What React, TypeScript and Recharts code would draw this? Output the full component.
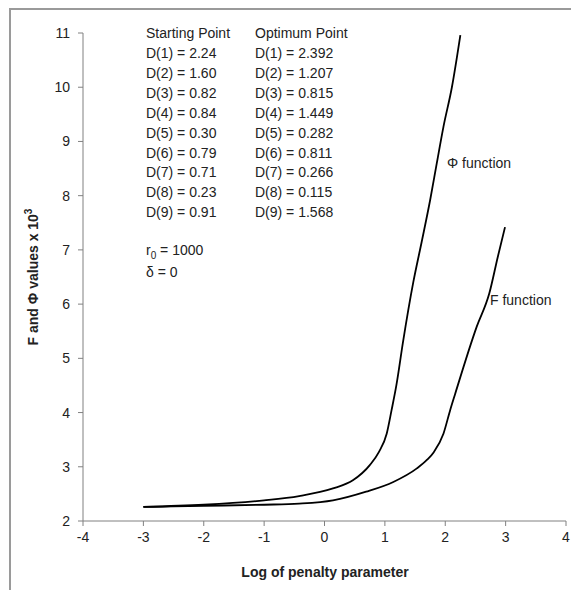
import React from 'react';
import { LineChart, Line, XAxis, YAxis } from 'recharts';

// log of penalty parameter vs F and Phi values (x 10^3)
const phiX = [-3, -2, -1, -0.42, 0.14, 0.47, 0.75, 0.9, 1.03, 1.11, 1.19, 1.3, 1.47, 1.61, 1.75, 1.86, 1.97, 2.11, 2.25];
const phiY = [2.26, 2.3, 2.38, 2.46, 2.6, 2.75, 3.03, 3.27, 3.61, 4.04, 4.5, 5.3, 6.4, 7.15, 7.92, 8.6, 9.27, 10.0, 10.96];

const fX = [-3, -2, -1, -0.42, 0.14, 0.69, 1.14, 1.53, 1.7, 1.81, 1.97, 2.08, 2.16, 2.52, 2.73, 2.87, 2.99];
const fY = [2.26, 2.28, 2.3, 2.32, 2.38, 2.54, 2.72, 2.97, 3.13, 3.27, 3.61, 4.04, 4.33, 5.58, 6.2, 6.87, 7.42];

const xTicks = [-4, -3, -2, -1, 0, 1, 2, 3, 4];
const yTicks = [2, 3, 4, 5, 6, 7, 8, 9, 10, 11];

const startD = [2.24, 1.6, 0.82, 0.84, 0.3, 0.79, 0.71, 0.23, 0.91];
const optD = [2.392, 1.207, 0.815, 1.449, 0.282, 0.811, 0.266, 0.115, 1.568];

const phiData = phiX.map((x, i) => ({ x, y: phiY[i] }));
const fData = fX.map((x, i) => ({ x, y: fY[i] }));

const font = '"Liberation Sans", Arial, sans-serif';
const tickStyle = { fontSize: 14, fill: '#222', fontFamily: font };

const App: React.FC = () => {
  return (
    <div style={{ position: 'absolute', left: 0, top: 0, width: 571, height: 590, background: '#fff' }}>
      <div
        style={{
          position: 'absolute',
          left: 9,
          top: 8,
          width: 600,
          height: 600,
          borderLeft: '2px solid #9a9a9a',
          borderTop: '2px solid #9a9a9a',
        }}
      />
      <LineChart
        width={571}
        height={590}
        margin={{ top: 33, right: 5, left: 0, bottom: 0 }}
        style={{ position: 'absolute', left: 0, top: 0 }}
      >
        <XAxis
          type="number"
          dataKey="x"
          domain={[-4, 4]}
          ticks={xTicks}
          allowDataOverflow
          height={69}
          stroke="#808080"
          tickSize={5}
          tickMargin={6}
          tick={tickStyle}
        />
        <YAxis
          type="number"
          dataKey="y"
          domain={[2, 11]}
          ticks={yTicks}
          width={83}
          stroke="#808080"
          tickSize={5}
          tickMargin={8}
          tick={tickStyle}
        />
        <Line data={phiData} dataKey="y" type="monotone" stroke="#000" strokeWidth={1.8} dot={false} isAnimationActive={false} />
        <Line data={fData} dataKey="y" type="monotone" stroke="#000" strokeWidth={1.8} dot={false} isAnimationActive={false} />
      </LineChart>
      <svg
        width={571}
        height={590}
        style={{ position: 'absolute', left: 0, top: 0, pointerEvents: 'none' }}
        fontFamily={font}
        fill="#222"
      >
        <text x={146} y={38} fontSize={14}>Starting Point</text>
        <text x={255} y={38} fontSize={14}>Optimum Point</text>
        {startD.map((v, i) => (
          <text key={'s' + i} x={146} y={58 + i * 19.9} fontSize={14}>
            {`D(${i + 1}) = ${v.toFixed(2)}`}
          </text>
        ))}
        {optD.map((v, i) => (
          <text key={'o' + i} x={255} y={58 + i * 19.9} fontSize={14}>
            {`D(${i + 1}) = ${v.toFixed(3)}`}
          </text>
        ))}
        <text x={146} y={255} fontSize={14}>
          r<tspan fontSize={10} dy={4}>0</tspan>
          <tspan dy={-4}> = 1000</tspan>
        </text>
        <text x={146} y={277} fontSize={14}>δ = 0</text>
        <text x={447} y={168} fontSize={14}>Φ function</text>
        <text x={490} y={305} fontSize={14}>F function</text>
        <text x={325} y={577} fontSize={14} fontWeight="bold" textAnchor="middle">
          Log of penalty parameter
        </text>
        <text transform="translate(38,277) rotate(-90)" fontSize={14} fontWeight="bold" textAnchor="middle">
          F and Φ values x 10<tspan fontSize={10} dy={-6}>3</tspan>
        </text>
      </svg>
    </div>
  );
};

export default App;
